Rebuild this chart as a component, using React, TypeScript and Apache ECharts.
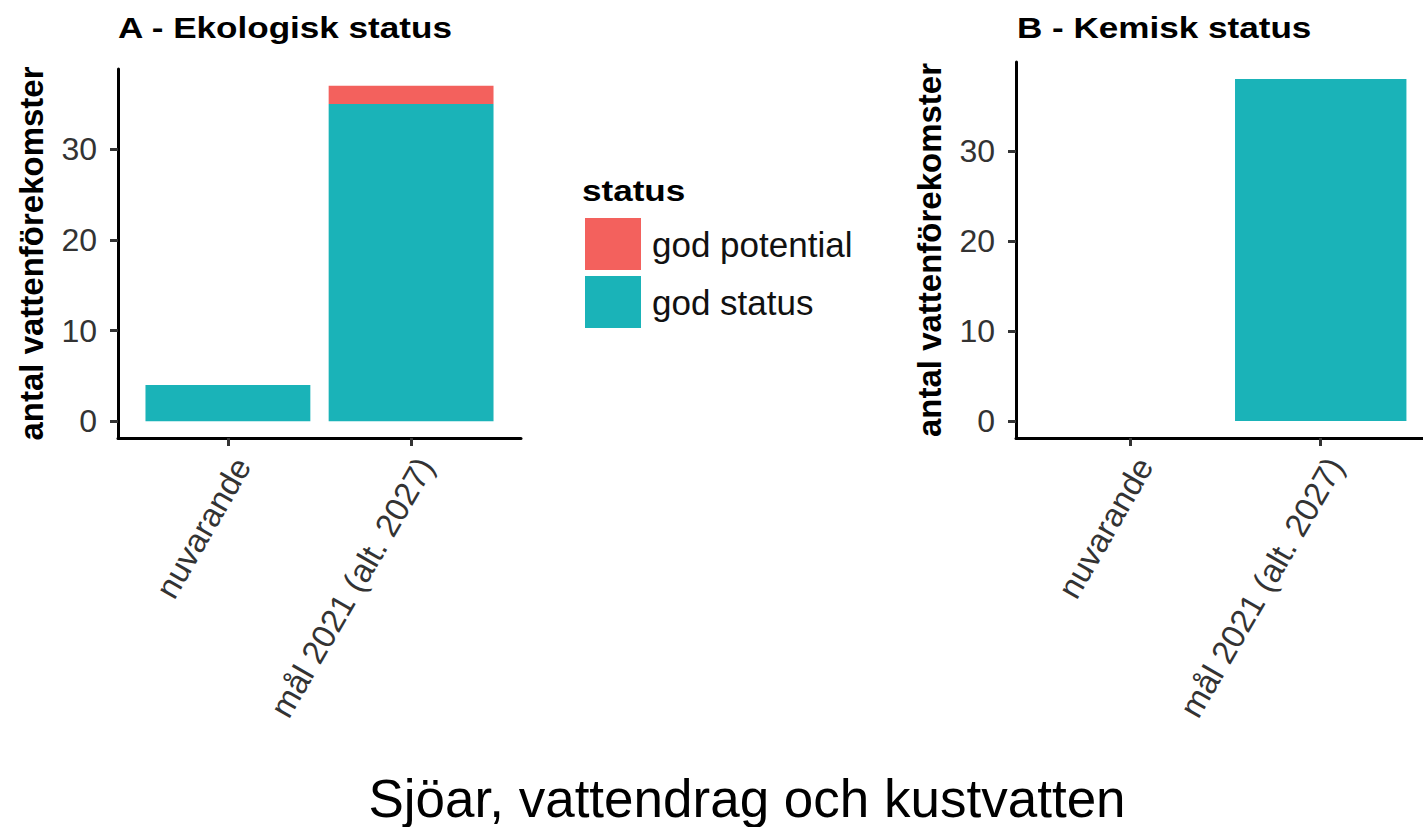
import React, { useEffect, useRef } from 'react';
import * as echarts from 'echarts';

const categories = ['nuvarande', 'mål 2021 (alt. 2027)'];
const ekoGodStatus = [4, 35];
const ekoGodPotential = [0, 2];
const kemGodStatus = [0, 38];
const yTicks = [0, 10, 20, 30];
const titleA = 'A - Ekologisk status';
const titleB = 'B - Kemisk status';
const yName = 'antal vattenförekomster';
const legendTitle = 'status';
const caption = 'Sjöar, vattendrag och kustvatten';

const RED = '#F3615D';
const TEAL = '#1AB3B8';
const FONT = '"Liberation Sans", Arial, Helvetica, sans-serif';

// panel layouts (ggplot-like discrete expansion: 0.6 units on each side)
const panelA = { left: 118, top: 69, width: 403, height: 369 };
const panelB = { left: 1016, top: 62, width: 419, height: 376 };

function narrow(p: { left: number; top: number; width: number; height: number }) {
  const unit = p.width / 2.2;
  return { left: p.left + 0.1 * unit, top: p.top, width: 2 * unit, height: p.height };
}

function lineX(gridIndex: number) {
  return {
    type: 'value',
    gridIndex,
    min: 0,
    max: 1,
    axisLine: { show: true, onZero: false, lineStyle: { color: '#000', width: 3 } },
    axisTick: { show: false },
    axisLabel: { show: false },
    splitLine: { show: false },
  };
}

function catX(gridIndex: number) {
  return {
    type: 'category',
    gridIndex,
    data: categories,
    axisLine: { show: false, onZero: false },
    axisTick: { show: true, alignWithLabel: true, length: 8, lineStyle: { color: '#333', width: 3 } },
    axisLabel: {
      show: true,
      interval: 0,
      rotate: 60,
      verticalAlign: 'top',
      margin: 14,
      fontSize: 33,
      color: '#333',
      fontFamily: FONT,
    },
    splitLine: { show: false },
  };
}

function visY(gridIndex: number, maxVal: number) {
  const pad = maxVal * 0.05;
  return {
    type: 'value',
    gridIndex,
    min: -pad,
    max: maxVal + pad,
    axisLine: { show: true, onZero: false, lineStyle: { color: '#000', width: 3 } },
    axisTick: { show: true, customValues: yTicks, length: 8, lineStyle: { color: '#333', width: 3 } },
    axisLabel: { show: true, customValues: yTicks, margin: 21, fontSize: 32, color: '#333', fontFamily: FONT },
    splitLine: { show: false },
    name: yName,
    nameLocation: 'middle',
    nameGap: 70,
    nameRotate: 90,
    nameTextStyle: { fontSize: 33, fontWeight: 'bold', color: '#000', fontFamily: FONT },
  };
}

function hidY(gridIndex: number, maxVal: number) {
  const pad = maxVal * 0.05;
  return {
    type: 'value',
    gridIndex,
    min: -pad,
    max: maxVal + pad,
    show: false,
    axisLine: { show: false, onZero: false },
    splitLine: { show: false },
  };
}

export default function App() {
  const ref = useRef<HTMLDivElement>(null);
  useEffect(() => {
    const chart = echarts.init(ref.current!, null, { renderer: 'svg' });
    const maxA = Math.max(...ekoGodStatus.map((v, i) => v + ekoGodPotential[i]));
    const maxB = Math.max(...kemGodStatus);
    const option: any = {
      animation: false,
      backgroundColor: '#fff',
      grid: [panelA, narrow(panelA), panelB, narrow(panelB)],
      xAxis: [lineX(0), catX(1), lineX(2), catX(3)],
      yAxis: [visY(0, maxA), hidY(1, maxA), visY(2, maxB), hidY(3, maxB)],
      legend: {
        data: ['god potential', 'god status'],
        orient: 'vertical',
        left: 585,
        top: 218,
        padding: 0,
        itemWidth: 56,
        itemHeight: 52,
        itemGap: 6,
        icon: 'rect',
        selectedMode: false,
        textStyle: { fontSize: 35, color: '#111', fontFamily: FONT, padding: [0, 0, 0, 6] },
      },
      series: [
        {
          name: 'god status', type: 'bar', xAxisIndex: 1, yAxisIndex: 1, stack: 'A',
          barWidth: '90%', data: ekoGodStatus, itemStyle: { color: TEAL },
        },
        {
          name: 'god potential', type: 'bar', xAxisIndex: 1, yAxisIndex: 1, stack: 'A',
          barWidth: '90%', data: ekoGodPotential, itemStyle: { color: RED },
        },
        {
          name: 'god status', type: 'bar', xAxisIndex: 3, yAxisIndex: 3, stack: 'B',
          barWidth: '90%', data: kemGodStatus, itemStyle: { color: TEAL },
        },
      ],
      graphic: [
        {
          type: 'text', x: 118, y: 27, scaleX: 1.17,
          style: { text: titleA, fontSize: 30, fontWeight: 'bold', fill: '#000', fontFamily: FONT, align: 'left', verticalAlign: 'middle' },
        },
        {
          type: 'text', x: 1017, y: 27, scaleX: 1.17,
          style: { text: titleB, fontSize: 30, fontWeight: 'bold', fill: '#000', fontFamily: FONT, align: 'left', verticalAlign: 'middle' },
        },
        {
          type: 'text', x: 582, y: 190, scaleX: 1.17,
          style: { text: legendTitle, fontSize: 30, fontWeight: 'bold', fill: '#000', fontFamily: FONT, align: 'left', verticalAlign: 'middle' },
        },
        {
          type: 'text', x: 747, y: 798,
          style: { text: caption, fontSize: 53, fill: '#000', fontFamily: FONT, align: 'center', verticalAlign: 'middle' },
        },
      ],
    };
    chart.setOption(option);
    return () => chart.dispose();
  }, []);
  return (
    <div
      ref={ref}
      style={{ position: 'absolute', left: 0, top: 0, width: 1423, height: 827, background: '#fff' }}
    />
  );
}
